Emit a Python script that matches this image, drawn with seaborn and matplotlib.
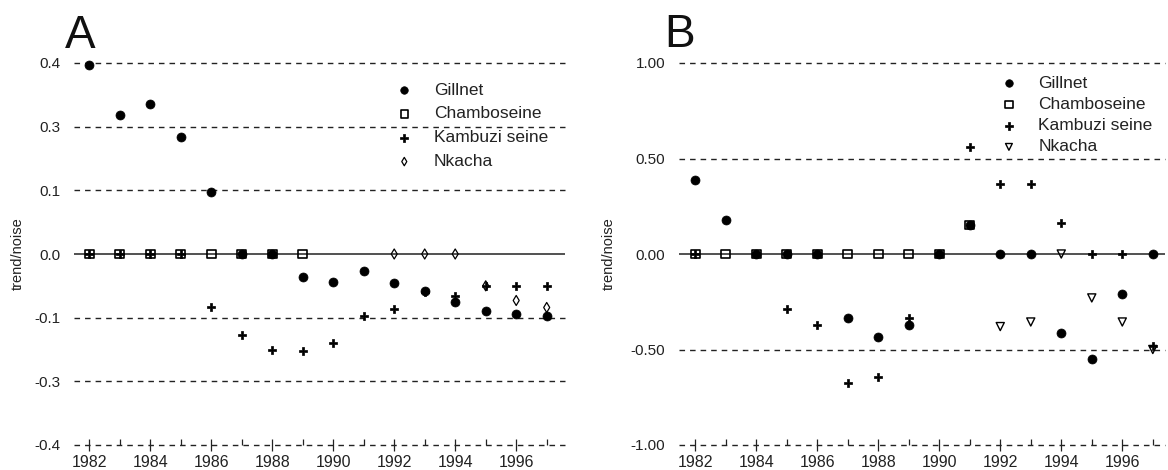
import numpy as np
import pandas as pd
import matplotlib
matplotlib.use("Agg")
import matplotlib.pyplot as plt
import seaborn as sns
from matplotlib.ticker import MultipleLocator

sns.set_style("white")
plt.rcParams['font.family'] = ['Liberation Sans', 'DejaVu Sans']

nan = np.nan
years = list(range(1982, 1998))
series_names = ["Gillnet", "Chamboseine", "Kambuzi seine", "Nkacha"]

# Panel A values (trend/noise)
a_gillnet = [0.397, 0.319, 0.335, 0.266, 0.098, 0.0, 0.0, -0.036, -0.044, -0.027,
             -0.045, -0.058, -0.075, -0.089, -0.095, -0.098]
a_chambo = [0, 0, 0, 0, 0, 0, 0, 0, nan, nan, nan, nan, nan, nan, nan, nan]
a_kambuzi = [0, 0, 0, 0, -0.084, -0.153, -0.200, -0.206, -0.181, -0.097,
             -0.086, -0.060, -0.066, -0.050, -0.050, -0.050]
a_nkacha = [nan, nan, nan, nan, nan, nan, nan, nan, nan, nan,
            0, 0, 0, -0.050, -0.073, -0.084]

# Panel B values (trend/noise)
b_gillnet = [0.39, 0.178, 0, 0, 0, -0.335, -0.435, -0.372, 0, 0.152,
             0, 0, -0.414, -0.55, -0.21, 0]
b_chambo = [0, 0, 0, 0, 0, 0, 0, 0, 0, 0.152, nan, nan, nan, nan, nan, nan]
b_kambuzi = [0, nan, nan, -0.288, -0.372, -0.675, -0.644, -0.335, nan, 0.56,
             0.366, 0.366, 0.163, 0, 0, -0.48]
b_nkacha = [nan, nan, nan, nan, nan, nan, nan, nan, nan, nan,
            -0.38, -0.356, 0, -0.23, -0.356, -0.50]

a_ticks = [0.4, 0.3, 0.1, 0.0, -0.1, -0.3, -0.4]
a_ticklabels = ["0.4", "0.3", "0.1", "0.0", "-0.1", "-0.3", "-0.4"]
b_ticks = [1.0, 0.5, 0.0, -0.5, -1.0]
b_ticklabels = ["1.00", "0.50", "0.00", "-0.50", "-1.00"]
year_ticks = list(range(1982, 1998, 2))

# Panel A uses an evenly spaced (piecewise) value axis
a_nodes = sorted(a_ticks)
a_pos = list(range(-3, 4))
def fwd(y):
    return np.interp(y, a_nodes, a_pos)
def inv(p):
    return np.interp(p, a_pos, a_nodes)

styles = {
    "Gillnet": dict(marker="o", facecolor="black", edgecolor="black", s=42),
    "Chamboseine": dict(marker="s", facecolor="none", edgecolor="black", s=40, linewidth=1.2),
    "Kambuzi seine": dict(marker="P", facecolor="black", edgecolor="black", s=38),
}
nk_a = dict(marker="d", facecolor="none", edgecolor="black", s=26, linewidth=0.9)
nk_b = dict(marker="v", facecolor="none", edgecolor="black", s=34, linewidth=1.0)

W, H = 1168, 470
fig = plt.figure(figsize=(W / 100, H / 100), dpi=100)
axA = fig.add_axes([74 / W, 1 - 445 / H, (565 - 74) / W, (445 - 63) / H])
axB = fig.add_axes([679 / W, 1 - 445 / H, (1165 - 679) / W, (445 - 63) / H])

def draw(ax, data, nk_style, ticks, ticklabels, xlim, ylim, legend_xy, spacing, label_x):
    handles = []
    for name, vals in zip(series_names, data):
        df = pd.DataFrame({"year": years, "value": vals}).dropna()
        st = styles.get(name, nk_style)
        sns.scatterplot(data=df, x="year", y="value", ax=ax, marker=st["marker"],
                        facecolor=st["facecolor"], edgecolor=st["edgecolor"],
                        s=st["s"], linewidth=st.get("linewidth", 0.5),
                        clip_on=False, zorder=5, legend=False)
        h = ax.scatter([], [], marker=st["marker"], facecolor=st["facecolor"],
                       edgecolor=st["edgecolor"], s=st["s"] * 0.7,
                       linewidth=st.get("linewidth", 0.5), label=name)
        handles.append(h)
    ax.set_xlim(*xlim)
    ax.set_ylim(*ylim)
    for t in ticks:
        if t == 0:
            ax.axhline(t, color="#222222", lw=1.1, zorder=2)
        else:
            ax.axhline(t, color="#222222", lw=1.0, ls=(0, (4, 3.6)), zorder=2,
                       clip_on=False)
    ax.set_yticks(ticks)
    ax.set_yticklabels(ticklabels)
    ax.set_xticks(year_ticks)
    ax.xaxis.set_minor_locator(MultipleLocator(1))
    ax.tick_params(axis="y", length=0, pad=10, labelsize=11, labelcolor="#222222")
    ax.tick_params(axis="x", which="major", direction="inout", length=8, width=0.9,
                   pad=3, labelsize=11.5, labelcolor="#222222", bottom=True, color="#222222")
    ax.tick_params(axis="x", which="minor", direction="in", length=4, width=0.9,
                   bottom=True, color="#222222")
    for sp in ax.spines.values():
        sp.set_visible(False)
    ax.set_xlabel("")
    ax.set_ylabel("trend/noise", fontsize=10.5, color="#222222")
    ax.yaxis.set_label_coords(label_x, 0.5)
    leg = ax.legend(handles=handles, loc="upper left", bbox_to_anchor=legend_xy,
                    frameon=False, fontsize=12.5, handlelength=1.0,
                    handletextpad=1.2, labelspacing=spacing, borderpad=0,
                    borderaxespad=0)
    for t in leg.get_texts():
        t.set_color("#222222")
    ax.set_facecolor("none")

axA.set_yscale("function", functions=(fwd, inv))
draw(axA, [a_gillnet, a_chambo, a_kambuzi, a_nkacha], nk_a, a_ticks, a_ticklabels,
     (1981.5, 1997.6), (-0.4, 0.4), (0.655, 0.949), 0.5, -0.10)
draw(axB, [b_gillnet, b_chambo, b_kambuzi, b_nkacha], nk_b, b_ticks, b_ticklabels,
     (1981.47, 1997.4), (-1.0, 1.0), (0.661, 0.967), 0.35, -0.13)

fig.text(65 / W, 1 - 48 / H, "A", fontsize=33, va="baseline", ha="left", color="#111111")
fig.text(664 / W, 1 - 47 / H, "B", fontsize=33, va="baseline", ha="left", color="#111111")

fig.savefig("out.png", dpi=100)
